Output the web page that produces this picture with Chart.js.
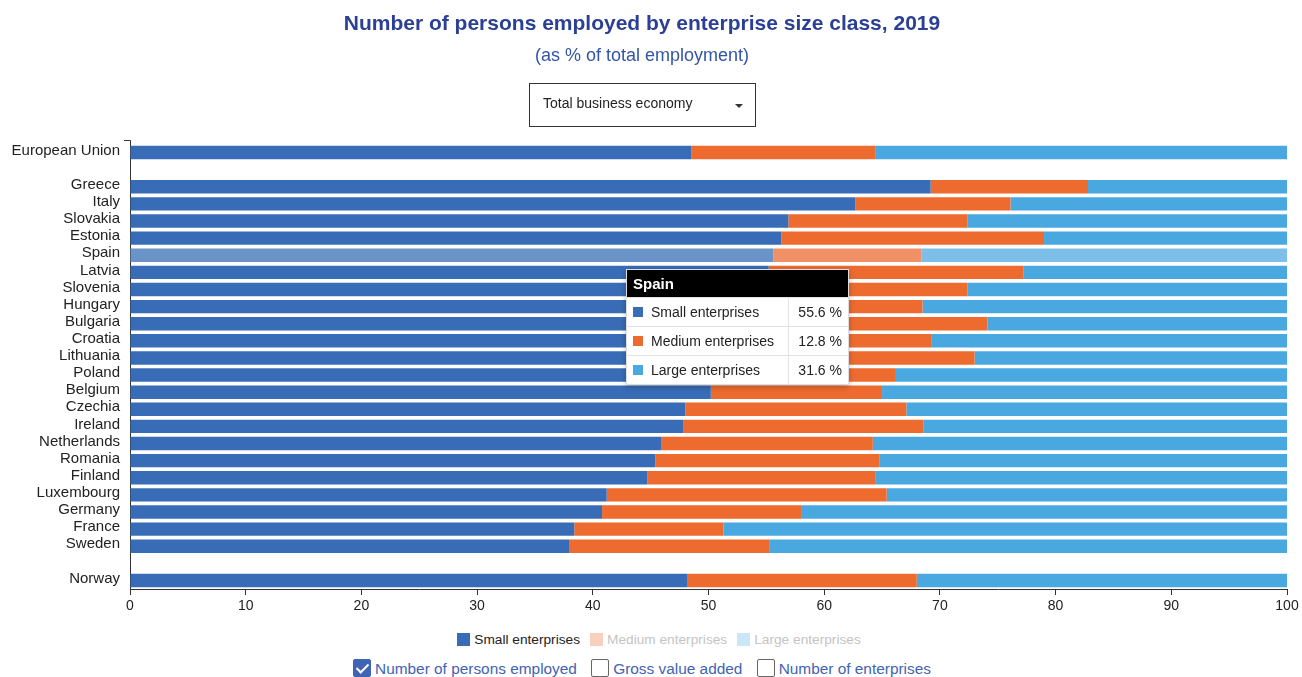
<!DOCTYPE html>
<html lang="en">
<head>
<meta charset="UTF-8">
<title>Enterprise size class</title>
<style>
  body { margin: 0; background: #fff; font-family: "Liberation Sans", Arial, sans-serif; }
  .page { position: relative; width: 1302px; height: 677px; overflow: hidden; }
  .titulo { position: absolute; top: 11px; left: 0; width: 1284px; text-align: center; font-size: 21px; font-weight: bold; color: #2b3f94; }
  .subtitulo { position: absolute; top: 45px; left: 0; width: 1284px; text-align: center; font-size: 18px; color: #3355a8; }
  .seletor { position: absolute; left: 529px; top: 83px; width: 225px; height: 42px; border: 1px solid #333; box-sizing: content-box; }
  .seletor span { position: absolute; left: 13px; top: 11px; font-size: 14px; color: #222; }
  .seletor i { position: absolute; left: 205px; top: 20px; width: 0; height: 0; border-left: 4px solid transparent; border-right: 4px solid transparent; border-top: 4px solid #333; }
  #grafico { position: absolute; left: 0; top: 0; }
  .legenda { position: absolute; top: 632px; left: 0; width: 1318px; text-align: center; font-size: 13.7px; }
  .legenda span { display: inline-block; margin: 0 5px; }
  .legenda b { display: inline-block; width: 13px; height: 13px; vertical-align: -2px; margin-right: 4px; }
  .medidas { position: absolute; top: 659px; left: 0; width: 1284px; text-align: center; font-size: 15.4px; color: #3f63b5; }
  .medidas span { display: inline-block; margin: 0 5px; }
  .caixa { display: inline-block; width: 16px; height: 16px; border: 1px solid #666; border-radius: 2px; vertical-align: -3px; margin-right: 4px; position: relative; }
  .caixa.on { background: #3f63b5; border-color: #3f63b5; }
  .caixa.on:after { content: ""; position: absolute; left: 5px; top: 1px; width: 5px; height: 10px; border: solid #fff; border-width: 0 2px 2px 0; transform: rotate(45deg); }
  #dica { position: absolute; background: #fff; border: 1px solid #ddd; box-shadow: 0 2px 6px rgba(0,0,0,0.25); font-size: 14px; color: #222; }
  #dica .cab { background: #000; color: #fff; font-weight: bold; font-size: 15px; padding: 5px 6px; }
  #dica table { border-collapse: collapse; }
  #dica td { border-top: 1px solid #e2e2e2; padding: 6px 14px 6px 6px; height: 16px; white-space: nowrap; }
  #dica td.val { border-left: 1px solid #e2e2e2; text-align: right; width: 47px; padding-right: 6px; }
  #dica td b { display: inline-block; width: 10px; height: 10px; margin-right: 8px; }
</style>
</head>
<body>
<div class="page">
  <canvas id="grafico" width="1302" height="625"></canvas>
  <div class="titulo">Number of persons employed by enterprise size class, 2019</div>
  <div class="subtitulo">(as % of total employment)</div>
  <div class="seletor"><span>Total business economy</span><i></i></div>
  <div class="legenda" id="legenda"></div>
  <div class="medidas">
    <span><b class="caixa on"></b>Number of persons employed</span>
    <span><b class="caixa"></b>Gross value added</span>
    <span><b class="caixa"></b>Number of enterprises</span>
  </div>
  <div id="dica"></div>
</div>

<script src="https://cdn.jsdelivr.net/npm/chart.js"></script>
<script>
// dados (% do emprego total), linhas vazias separam UE / países / Noruega
const paises = ['European Union', '', 'Greece', 'Italy', 'Slovakia', 'Estonia', 'Spain', 'Latvia', 'Slovenia',
  'Hungary', 'Bulgaria', 'Croatia', 'Lithuania', 'Poland', 'Belgium', 'Czechia', 'Ireland', 'Netherlands',
  'Romania', 'Finland', 'Luxembourg', 'Germany', 'France', 'Sweden', '', 'Norway'];
const pequenas = [48.5, null, 69.2, 62.7, 56.9, 56.3, 55.6, 55.2, 54.5, 53.6, 53.0, 52.3, 51.6, 50.8, 50.2, 48.0,
  47.8, 45.9, 45.4, 44.7, 41.2, 40.8, 38.4, 38.0, null, 48.2];
const medias = [15.9, null, 13.6, 13.4, 15.5, 22.7, 12.8, 22.0, 17.9, 14.9, 21.1, 17.0, 21.4, 15.4, 14.8, 19.1,
  20.8, 18.3, 19.4, 19.7, 24.2, 17.2, 12.9, 17.3, null, 19.8];
const grandes = [35.6, null, 17.2, 23.9, 27.6, 21.0, 31.6, 22.8, 27.6, 31.5, 25.9, 30.7, 27.0, 33.8, 35.0, 32.9,
  31.4, 35.8, 35.2, 35.6, 34.6, 42.0, 48.7, 44.7, null, 32.0];
const rotulosX = [0, 10, 20, 30, 40, 50, 60, 70, 80, 90, 100];
const destaque = 'Spain';

const series = [
  { label: 'Small enterprises', data: pequenas, cor: '#386cb6', corHover: '#6a94c8', apagada: false },
  { label: 'Medium enterprises', data: medias, cor: '#ee6b30', corHover: '#f09066', apagada: true, corLeg: '#f9d0bd' },
  { label: 'Large enterprises', data: grandes, cor: '#4aa8e1', corHover: '#7dbfe9', apagada: true, corLeg: '#cbe6f7' }
];

// eixo y prolongado um pouco acima, com traço no topo
const tracoTopo = {
  id: 'tracoTopo',
  afterDraw(chart) {
    const c = chart.ctx, a = chart.chartArea;
    c.save();
    c.strokeStyle = '#333';
    c.lineWidth = 1;
    c.beginPath();
    c.moveTo(a.left - 6, a.top - 3.5);
    c.lineTo(a.left + 0.5, a.top - 3.5);
    c.lineTo(a.left + 0.5, a.top);
    c.stroke();
    c.restore();
  }
};

const ctx = document.getElementById('grafico').getContext('2d');
const grafico = new Chart(ctx, {
  type: 'bar',
  data: {
    labels: paises,
    datasets: series.map(s => ({
      label: s.label,
      data: s.data,
      backgroundColor: s.cor,
      hoverBackgroundColor: s.corHover,
      borderWidth: 0,
      categoryPercentage: 0.8,
      barPercentage: 0.98
    }))
  },
  options: {
    indexAxis: 'y',
    responsive: false,
    animation: false,
    events: [],
    layout: { padding: { top: 144, right: 15, left: 0, bottom: 0 } },
    scales: {
      x: {
        stacked: true,
        min: 0,
        max: 100,
        afterBuildTicks: s => { s.ticks = rotulosX.map(v => ({ value: v })); },
        afterFit: s => { s.height = 36; },
        grid: { display: true, drawOnChartArea: false, drawTicks: true, tickLength: 6, color: '#333' },
        border: { display: true, color: '#333' },
        ticks: { color: '#222', padding: 3, font: { family: 'Liberation Sans', size: 14 } }
      },
      y: {
        stacked: true,
        afterFit: s => { s.width = 130; },
        grid: { display: false, drawTicks: false },
        border: { display: true, color: '#333' },
        ticks: { color: '#222', padding: 10, autoSkip: false, labelOffset: -2, font: { family: 'Liberation Sans', size: 15 } }
      }
    },
    plugins: {
      legend: { display: false },
      tooltip: { enabled: false }
    }
  },
  plugins: [tracoTopo]
});

// legenda em HTML a partir das séries
const leg = document.getElementById('legenda');
series.forEach(s => {
  const el = document.createElement('span');
  el.innerHTML = '<b style="background:' + (s.apagada ? s.corLeg : s.cor) + '"></b>' + s.label;
  el.style.color = s.apagada ? '#c4c4c4' : '#222';
  leg.appendChild(el);
});

// realce de Espanha, como no passar do rato
const idx = paises.indexOf(destaque);
grafico.setActiveElements(series.map((s, i) => ({ datasetIndex: i, index: idx })));
grafico.update();

// caixa de informação
const dica = document.getElementById('dica');
let html = '<div class="cab">' + destaque + '</div><table>';
series.forEach(s => {
  html += '<tr><td><b style="background:' + s.cor + '"></b>' + s.label + '</td><td class="val">' +
    s.data[idx].toFixed(1) + ' %</td></tr>';
});
html += '</table>';
dica.innerHTML = html;
const barra = grafico.getDatasetMeta(0).data[idx];
dica.style.left = Math.round(grafico.scales.x.getPixelForValue(42.9)) + 'px';
dica.style.top = Math.round(barra.y + barra.height / 2 + 7) + 'px';
</script>
</body>
</html>
